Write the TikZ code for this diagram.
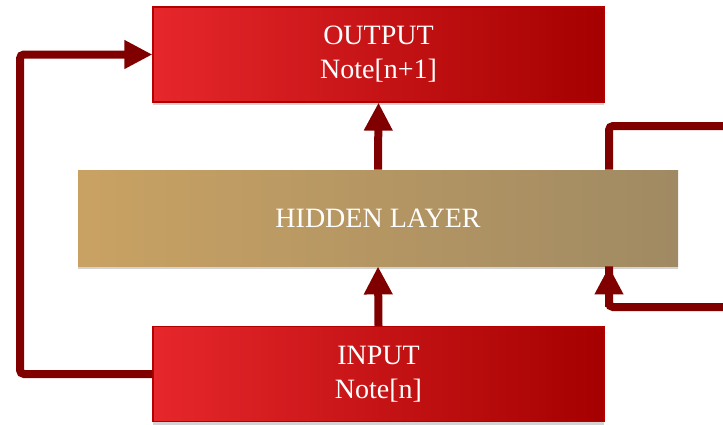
\documentclass[tikz,border=0pt]{standalone}
\usepackage{fontspec}
\setmainfont{Liberation Serif}
\usepackage{tikz}
\usetikzlibrary{arrows.meta,shadows}
\definecolor{redleft}{HTML}{E6272B}
\definecolor{redright}{HTML}{A50000}
\definecolor{rededge}{HTML}{B50000}
\definecolor{hidleft}{HTML}{C9A263}
\definecolor{hidright}{HTML}{A08A63}
\definecolor{flowred}{HTML}{800000}
\newcommand{\notefont}{\fontsize{14pt}{17pt}\selectfont}

\begin{document}
\begin{tikzpicture}[x=0.5pt,y=-0.5pt,
    redbox/.style={draw=rededge,line width=0.6pt,left color=redleft,right color=redright,
      minimum width=225.5pt,minimum height=47.5pt,inner sep=0pt,align=center,
      text=white,font=\notefont,drop shadow={shadow xshift=0pt,shadow yshift=-1.5pt,opacity=0.35}},
    hidbox/.style={left color=hidleft,right color=hidright,
      minimum width=300pt,minimum height=48pt,inner sep=0pt,
      text=white,font=\notefont,drop shadow={shadow xshift=0pt,shadow yshift=-1.5pt,opacity=0.35}},
    flow/.style={draw=flowred,line width=4pt,rounded corners=2pt,
      -{Triangle[width=13.5pt,length=14pt]}},
    flowplain/.style={draw=flowred,line width=4pt,rounded corners=2pt}]
  \clip (0,0) rectangle (723,424);
  \node[redbox] (out) at (378.5,54.5) {OUTPUT\\Note[n+1]};
  \node[hidbox] (hid) at (378,218) {HIDDEN LAYER};
  \node[redbox] (inp) at (378.5,374) {INPUT\\Note[n]};
  \coordinate (lft) at (20,0);
  \coordinate (rtop) at (609,126);
  \coordinate (rbot) at (609,307);
  \coordinate (rfar) at (745,126);
  \draw[flow] (hid.north) -- (out.south);
  \draw[flow] (inp.north) -- (hid.south);
  \draw[flow] (inp.west) -- (inp.west -| lft) -- (out.west -| lft) -- (out.west);
  \draw[flowplain] (rtop |- hid.north) -- (rtop) -- (rfar) -- (rfar |- rbot) -- (rbot) -- (rbot |- hid.south);
  \draw[flow] (rbot) -- (rbot |- hid.south);
\end{tikzpicture}
\end{document}
